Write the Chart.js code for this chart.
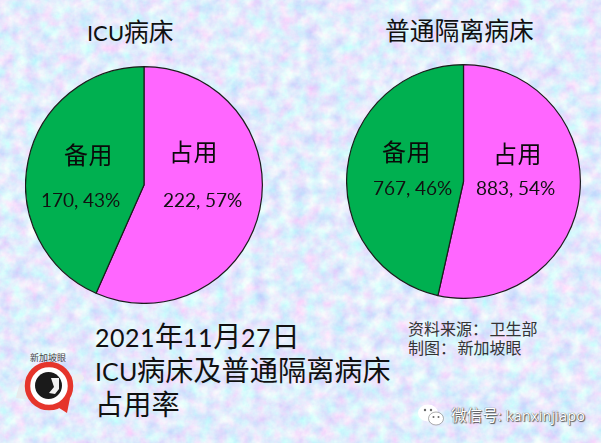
<!DOCTYPE html>
<html lang="zh">
<head>
<meta charset="utf-8">
<title>ICU病床及普通隔离病床占用率</title>
<script src="https://cdn.jsdelivr.net/npm/chart.js@4"></script>
<style>
	/* Lato runs large next to the CJK glyphs, so scale the latin range down */
	@font-face { font-family: "LatinBody"; src: local("Lato"), local("Lato Regular"); size-adjust: 88%; unicode-range: U+0020-007E; }
	html, body { margin: 0; padding: 0; }
	#page { position: relative; width: 601px; height: 443px; overflow: hidden; background: #c8dcf8; font-family: LatinBody, "Noto Sans CJK SC", sans-serif; color: #111; }
	#page > svg, #page > canvas, #page > div { position: absolute; }
	.t { white-space: nowrap; line-height: 1; }
	.head { font-size: 24.8px; }
	.cat { font-size: 24px; letter-spacing: 0.5px; color: #0a0a0a; }
	.val { font-size: 21.3px; color: #111; }
	.big { font-size: 28.2px; }
	.src { font-size: 16px; color: #333; word-spacing: -2.5px; }
	#mark { font-family: "Noto Sans CJK SC", "Open Sans", sans-serif; font-size: 15.6px; color: #fff; text-shadow: 0 0 1px #333, 1px 1px 1px #555; }
	#mark span { font-family: "Open Sans", sans-serif; font-size: 14.4px; letter-spacing: 0.2px; }
</style>
</head>
<body>
<div id="page">
	<!-- mottled backdrop -->
	<svg width="601" height="443" style="left:0;top:0">
		<filter id="mottle" x="0" y="0" width="100%" height="100%">
			<feTurbulence type="fractalNoise" baseFrequency="0.075" numOctaves="4" seed="11"/>
			<feColorMatrix type="matrix" values="0.6 0 0 0 0.46  0 0.55 0 0 0.56  0 0 0 0 0.97  0 0 0 0 1"/>
		</filter>
		<rect width="601" height="443" filter="url(#mottle)"/>
	</svg>

	<canvas id="pieIcu" width="238" height="238" style="left:25px;top:66px"></canvas>
	<canvas id="pieWard" width="235" height="235" style="left:346px;top:64px"></canvas>

	<div class="t head" style="left:87px;top:21px" id="titleIcu"></div>
	<div class="t head" style="left:385px;top:20px" id="titleWard"></div>

	<div class="t cat" style="left:64px;top:144px" id="icuSpare"></div>
	<div class="t cat" style="left:169px;top:141px" id="icuUsed"></div>
	<div class="t cat" style="left:382px;top:141px" id="wardSpare"></div>
	<div class="t cat" style="left:493px;top:143px" id="wardUsed"></div>

	<div class="t val" style="left:41px;top:190px" id="icuSpareVal"></div>
	<div class="t val" style="left:163px;top:190px" id="icuUsedVal"></div>
	<div class="t val" style="left:373px;top:178px" id="wardSpareVal"></div>
	<div class="t val" style="left:476px;top:178px" id="wardUsedVal"></div>

	<div class="t big" style="left:95px;top:324px" id="line1"></div>
	<div class="t big" style="left:95px;top:358px" id="line2"></div>
	<div class="t big" style="left:95px;top:392px" id="line3"></div>

	<div class="t src" style="left:408px;top:322px" id="src1"></div>
	<div class="t src" style="left:408px;top:341px" id="src2"></div>

	<!-- round logo with the tail pointing down right -->
	<svg width="80" height="80" style="left:10px;top:340px" viewBox="0 0 80 80">
		<path d="M6 58 C8 44 14 36 24 33 L24 60 Z" fill="#e8e8ea" opacity="0.85"/>
		<ellipse cx="68" cy="38" rx="6" ry="4" fill="#eeeef0" opacity="0.85"/>
		<circle cx="39" cy="46" r="21.5" fill="#fff" stroke="#e5352b" stroke-width="5.5"/>
		<path d="M46 66 L60 58 L57 73 Z" fill="#e5352b"/>
		<circle cx="38.5" cy="45.5" r="13.5" fill="#1a1a1a"/>
		<path d="M41 38 L49 38 L49 49 L45 54 L39 53 L44 47 Z" fill="#f2f2f2"/>
		<text x="38" y="21" font-size="9" text-anchor="middle" fill="#444" font-family="Noto Sans CJK SC">新加坡眼</text>
	</svg>

	<!-- account mark, bottom right -->
	<svg width="26" height="24" style="left:418px;top:403px" viewBox="0 0 26 24">
		<ellipse cx="10" cy="10" rx="10" ry="8.5" fill="#fff"/>
		<ellipse cx="18" cy="15.5" rx="7.5" ry="6.5" fill="#fff" stroke="#777" stroke-width="0.6"/>
		<circle cx="7" cy="7" r="1.2" fill="#666"/><circle cx="13" cy="7" r="1.2" fill="#666"/>
		<circle cx="15.5" cy="14" r="1" fill="#666"/><circle cx="20.5" cy="14" r="1" fill="#666"/>
	</svg>
	<div class="t" id="mark" style="left:451px;top:407px"></div>
</div>
<script>
// Bed counts, 27 Nov 2021
const categories = ["占用", "备用"];
const icuValues = [222, 170];
const wardValues = [883, 767];
const chartTitles = ["ICU病床", "普通隔离病床"];
const captionLines = ["2021年11月27日", "ICU病床及普通隔离病床", "占用率"];
const sourceLines = ["资料来源： 卫生部", "制图： 新加坡眼"];
const markPrefix = "微信号";
const markHandle = ": kanxinjiapo";
const sliceColors = ["#FF66FF", "#00B050"];

const setText = (id, text) => { document.getElementById(id).textContent = text; };

const valueLabel = (values, i) => {
	const total = values.reduce((a, b) => a + b, 0);
	return `${values[i]}, ${Math.round(values[i] / total * 100)}%`;
};

const drawPie = (id, values) => new Chart(document.getElementById(id), {
	type: 'pie',
	data: {
		labels: categories,
		datasets: [{
			data: values,
			backgroundColor: sliceColors,
			borderColor: '#1c1c1c',
			borderWidth: 1.2,
		}]
	},
	options: {
		responsive: false,
		animation: false,
		layout: { padding: 0 },
		plugins: {
			legend: { display: false },
			tooltip: { enabled: false },
		},
	},
});

drawPie('pieIcu', icuValues);
drawPie('pieWard', wardValues);

setText('titleIcu', chartTitles[0]);
setText('titleWard', chartTitles[1]);
setText('icuUsed', categories[0]);
setText('icuSpare', categories[1]);
setText('wardUsed', categories[0]);
setText('wardSpare', categories[1]);
setText('icuUsedVal', valueLabel(icuValues, 0));
setText('icuSpareVal', valueLabel(icuValues, 1));
setText('wardUsedVal', valueLabel(wardValues, 0));
setText('wardSpareVal', valueLabel(wardValues, 1));
captionLines.forEach((line, i) => setText(`line${i + 1}`, line));
sourceLines.forEach((line, i) => setText(`src${i + 1}`, line));

const mark = document.getElementById('mark');
mark.append(markPrefix);
const handle = document.createElement('span');
handle.textContent = markHandle;
mark.append(handle);
</script>
</body>
</html>
